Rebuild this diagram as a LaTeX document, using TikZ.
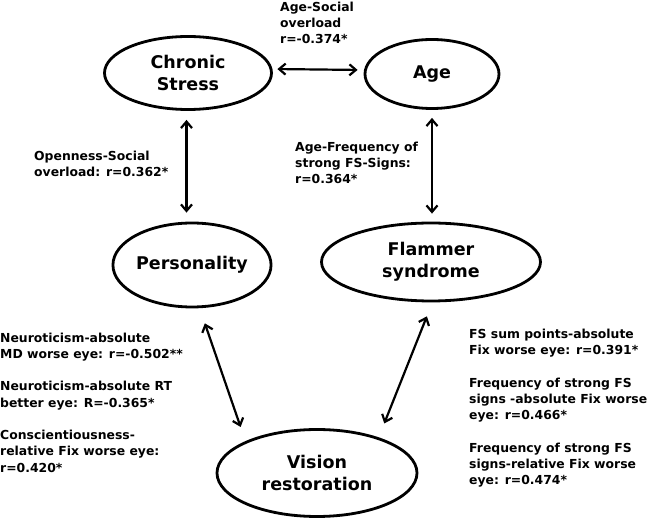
\documentclass[tikz,border=0pt]{standalone}
\usepackage{fontspec}
\setmainfont{DejaVu Sans}
\usetikzlibrary{shapes.geometric,arrows.meta}
\tikzset{
  ell/.style={ellipse, draw, line width=2.8pt, inner sep=0pt, align=center,
    font=\fontsize{17.5}{22}\selectfont\bfseries},
  lbl/.style={anchor=north west, inner sep=0pt, align=left,
    font=\fontsize{12.4}{16.3}\selectfont\bfseries},
  conn/.style={{Straight Barb[length=6.5pt,width=11pt]}-{Straight Barb[length=6.5pt,width=11pt]},
    line width=2.2pt}
}
\begin{document}
\begin{tikzpicture}[x=1pt,y=-1pt]
\useasboundingbox[fill=white] (0,0) rectangle (649,521);
% ellipses
\node[ell, minimum width=167pt, minimum height=73pt] (cs) at (188,73) {Chronic\\Stress};
\node[ell, minimum width=134pt, minimum height=69pt] (age) at (432,74) {Age};
\node[ell, minimum width=156pt, minimum height=84pt] (pers) at (192,265) {Personality};
\node[ell, minimum width=219pt, minimum height=78pt] (flam) at (431,262) {Flammer\\syndrome};
\node[ell, minimum width=200pt, minimum height=87pt] (vis) at (317,473) {Vision\\restoration};
% connectors
\draw[conn, shorten <=4.5pt, shorten >=6pt] ([yshift=4pt]cs.east) -- ([yshift=4pt]age.west);
\draw[conn, shorten <=9pt, shorten >=9pt] ([xshift=-1.5pt]cs.south) -- ([xshift=-1.5pt]cs.south |- pers.north);
\draw[conn, shorten <=8pt, shorten >=8pt] (age.south) -- (age.south |- flam.north);
\draw[conn, shorten <=16pt, shorten >=15pt] (pers.-80) -- (vis.156);
\draw[conn, shorten <=15pt, shorten >=15pt] (flam.-88) -- (vis.30);
% labels
\node[lbl] (l1) at (280,-0.4) {\strut Age-Social\\overload\\r=-0.374*};
\node[lbl] (l2) at (34,148.6) {\strut Openness-Social\\overload: r=0.362*};
\node[lbl] (l3) at (295,139.6) {\strut Age-Frequency of\\strong FS-Signs:\\r=0.364*};
\node[lbl] (l4) at (0,330.6) {\strut Neuroticism-absolute\\MD worse eye: r=-0.502**};
\node[lbl] (l5) at (0,379.2) {\strut Neuroticism-absolute RT\\better eye: R=-0.365*};
\node[lbl] (l6) at (0,427.8) {\strut Conscientiousness-\\relative Fix worse eye:\\r=0.420*};
\node[lbl] (r1) at (469,326.6) {\strut FS sum points-absolute\\Fix worse eye: r=0.391*};
\node[lbl] (r2) at (469,375.5) {\strut Frequency of strong FS\\signs -absolute Fix worse\\eye: r=0.466*};
\node[lbl] (r3) at (469,440.7) {\strut Frequency of strong FS\\signs-relative Fix worse\\eye: r=0.474*};
\end{tikzpicture}
\end{document}
